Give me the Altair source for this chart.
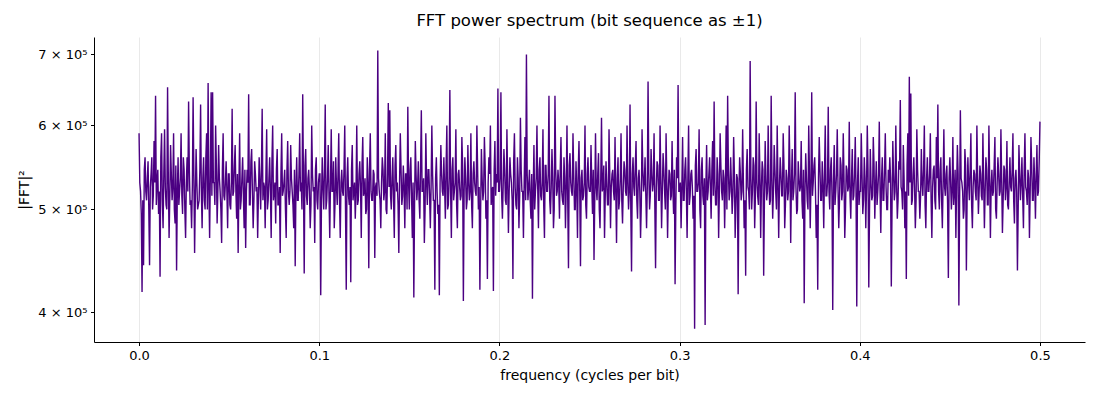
import altair as alt
import pandas as pd

# |FFT|^2 values (in thousands).
# power_k_a: samples at even bins (spikes and dips), power_k_b: the samples between them.
power_k_a = [
590,520,418,443,560,510,555,443,540,500,580,640,530,495,432,590,480,595,505,652,
470,575,510,590,485,438,560,520,590,495,545,470,560,632,505,480,638,455,570,500,
510,628,480,560,500,590,658,470,645,645,530,600,485,575,520,465,590,510,555,480,
540,500,622,520,575,490,455,590,510,560,480,460,545,642,505,570,480,555,520,470,
560,500,622,530,480,595,510,560,470,600,520,485,570,505,455,590,520,545,470,580,
505,575,520,480,442,560,510,590,530,642,435,570,505,545,480,600,520,465,560,500,
540,415,560,500,628,510,575,470,595,520,480,560,505,590,470,545,515,600,420,560,
505,427,575,520,490,600,510,555,470,585,520,495,560,440,590,510,545,450,530,706,
520,480,560,510,590,495,630,620,500,560,470,575,530,455,590,505,550,480,540,625,
500,560,470,413,580,510,555,490,620,520,465,590,505,545,480,600,510,420,560,495,
415,575,520,560,490,600,505,648,470,560,520,595,480,545,510,585,410,560,500,575,
510,590,480,555,520,600,500,420,570,510,585,490,430,560,600,520,419,580,540,650,
520,645,490,570,510,595,475,560,530,430,590,505,560,480,610,520,470,585,700,510,
545,490,412,575,520,600,480,560,510,595,470,550,520,640,495,570,480,640,515,545,
490,585,510,560,480,600,440,565,520,590,500,555,470,580,442,545,515,600,490,560,
520,575,495,448,590,510,565,480,610,525,470,555,505,595,480,540,520,585,465,560,
510,590,485,555,520,600,500,628,437,560,515,580,490,545,470,595,520,560,480,660,
500,570,520,590,440,555,510,600,480,565,520,590,470,545,510,580,495,425,560,655,
520,480,585,510,560,470,600,515,545,490,386,570,520,595,480,560,505,389,575,520,
560,490,580,632,505,560,470,590,520,545,480,600,640,510,560,495,585,470,540,416,
560,510,595,480,433,570,520,690,500,560,480,632,515,590,470,555,433,580,510,600,
505,640,490,575,520,600,470,560,515,590,480,545,510,600,465,570,520,645,495,555,
520,580,490,408,565,510,600,480,645,530,560,470,420,585,510,555,480,600,515,625,
500,560,402,575,520,595,480,560,510,590,470,550,520,605,490,570,515,585,405,560,
520,590,495,560,480,600,422,570,510,585,490,555,520,605,475,560,510,590,500,545,
560,423,580,510,600,490,555,634,520,575,480,430,590,667,643,510,560,480,595,520,
490,570,515,600,480,560,520,590,470,545,510,585,628,500,560,480,595,515,550,431,
560,500,585,520,470,575,406,620,530,490,570,438,560,510,590,480,545,520,600,495,
550,515,590,480,560,505,600,470,545,520,585,490,560,515,595,475,550,510,580,500,
560,520,590,485,545,438,575,510,560,480,590,520,545,470,585,510,560,490,575,520,
605,
]
power_k_b = [
530,495,510,545,520,535,500,525,560,515,530,505,545,520,560,510,540,525,500,535,
515,540,525,500,550,520,505,535,515,560,500,530,520,545,510,525,540,515,530,505,
545,520,535,510,560,500,525,540,515,530,505,550,520,535,500,545,515,530,520,540,
505,530,515,550,520,540,525,500,535,515,545,520,530,505,555,520,510,540,525,515,
530,545,510,525,540,500,535,520,555,510,530,545,505,525,540,515,530,500,545,520,
520,535,505,545,525,510,540,520,500,530,550,515,535,520,505,540,525,545,510,530,
540,510,525,545,500,535,515,530,520,555,505,525,540,510,530,520,545,500,535,515,
525,545,510,530,520,505,540,525,550,515,535,500,530,545,520,510,540,525,515,535,
510,530,545,520,500,540,525,515,535,510,550,520,505,530,545,515,525,540,500,530,
545,515,530,505,540,525,510,550,520,535,500,530,545,515,525,540,510,535,520,505,
530,540,515,525,550,500,535,520,545,510,530,505,540,525,515,550,520,535,510,530,
520,505,540,530,515,545,525,500,535,520,550,510,530,540,505,525,545,515,530,520,
535,515,525,545,505,530,520,540,510,555,525,500,535,515,545,520,530,510,540,525,
510,540,520,500,535,525,545,515,530,505,550,520,540,510,525,535,500,545,520,530,
545,520,505,535,525,510,550,530,515,540,500,525,545,520,535,510,530,505,540,525,
520,530,545,510,525,540,500,535,520,550,515,530,505,540,525,545,510,520,535,500,
535,510,525,545,515,530,520,500,540,525,550,510,535,520,505,545,530,515,525,540,
515,540,530,505,525,550,510,535,520,545,500,530,520,540,515,525,545,505,535,520,
530,525,510,545,520,535,505,540,525,515,550,520,530,500,545,515,535,525,510,540,
525,545,515,530,505,540,520,550,510,535,525,500,545,520,530,515,540,505,535,520,
540,520,530,510,545,525,500,535,520,550,515,530,505,540,525,545,510,535,520,530,
510,535,520,545,500,530,525,540,515,550,505,535,520,545,530,510,540,525,500,535,
525,510,545,520,535,500,540,530,515,550,520,505,535,545,510,525,540,515,530,520,
545,515,530,505,540,525,510,550,520,535,500,545,525,515,535,510,540,520,530,505,
520,540,510,535,525,545,500,530,515,550,525,505,540,520,535,510,545,525,500,530,
535,505,540,520,530,510,545,525,500,535,520,550,515,530,505,540,525,510,545,520,
515,530,545,505,535,520,540,510,525,550,500,535,520,545,510,530,525,540,505,535,
530,520,505,545,525,540,510,535,520,500,550,515,530,545,505,525,540,510,535,520,
540,510,530,520,545,505,535,525,515,550,500,530,540,520,535,510,545,525,505,530,
525,545,510,535,520,500,540,530,515,545,525,505,535,520,550,510,530,540,515,555,
]

power_k = []
for i, a in enumerate(power_k_a):
    power_k.append(a)
    if i < len(power_k_b):
        power_k.append(power_k_b[i])

n_bins = len(power_k) - 1
freq = [i / (2 * n_bins) for i in range(len(power_k))]
power = [v * 1000 for v in power_k]

x_ticks = [0.0, 0.1, 0.2, 0.3, 0.4, 0.5]
y_ticks = [400000, 500000, 600000, 700000]

df = pd.DataFrame({"freq": freq, "power": power})

FONT = "DejaVu Sans"

chart = (
    alt.Chart(df)
    .mark_line(color="#4B0082", strokeWidth=1.4, clip=True)
    .encode(
        x=alt.X(
            "freq:Q",
            scale=alt.Scale(domain=[-0.025, 0.525], nice=False, zero=False),
            axis=alt.Axis(
                title="frequency (cycles per bit)",
                values=x_ticks,
                format=".1f",
                grid=True,
                gridColor="#e3e3e3",
                gridWidth=0.8,
                tickSize=3.5,
                tickColor="black",
                domainColor="black",
                labelPadding=3.5,
                titlePadding=6,
            ),
        ),
        y=alt.Y(
            "power:Q",
            scale=alt.Scale(type="log", domain=[375000, 727000], nice=False, zero=False),
            axis=alt.Axis(
                title="|FFT|²",
                values=y_ticks,
                labelExpr="format(datum.value / 100000, 'd') + ' × 10⁵'",
                grid=False,
                tickSize=3.5,
                tickColor="black",
                domainColor="black",
                labelPadding=3.5,
                titlePadding=6,
            ),
        ),
    )
    .properties(
        width=991,
        height=305,
        title=alt.TitleParams(
            "FFT power spectrum (bit sequence as ±1)",
            fontSize=16.5,
            fontWeight="normal",
            font=FONT,
            color="black",
            offset=8,
        ),
        autosize=alt.AutoSizeParams(type="none"),
        padding={"left": 86, "top": 29, "right": 7, "bottom": 50},
    )
    .configure_view(stroke=None)
    .configure_axis(
        labelFont=FONT,
        titleFont=FONT,
        labelFontSize=13,
        titleFontSize=14,
        titleFontWeight="normal",
        labelColor="black",
        titleColor="black",
        domainWidth=1,
        tickWidth=1,
    )
)

chart.save("out.html", embed_options={"renderer": "svg", "actions": False})
